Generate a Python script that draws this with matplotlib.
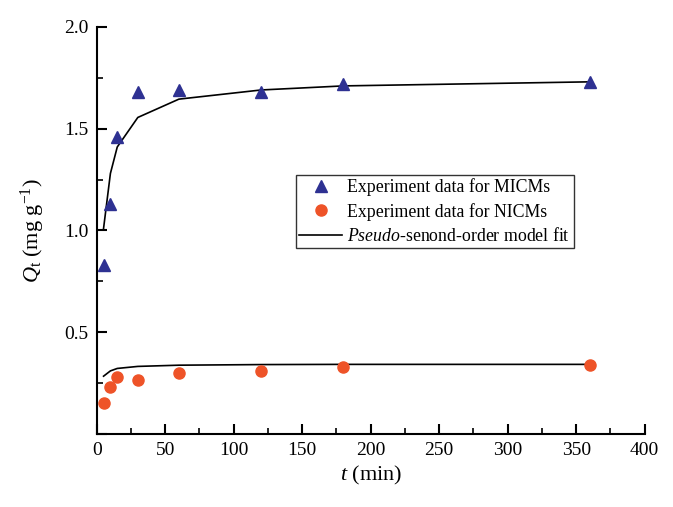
import matplotlib
matplotlib.use('Agg')
import matplotlib.pyplot as plt
from matplotlib.ticker import MultipleLocator

plt.rcParams['font.family'] = ['Liberation Serif', 'DejaVu Serif']
plt.rcParams['mathtext.fontset'] = 'custom'
plt.rcParams['mathtext.rm'] = 'Liberation Serif'
plt.rcParams['mathtext.it'] = 'Liberation Serif:italic'

# contact time (min)
t = [5, 10, 15, 30, 60, 120, 180, 360]

# measured uptake
q_micm = [0.83, 1.13, 1.46, 1.68, 1.69, 1.68, 1.72, 1.73]
q_nicm = [0.153, 0.232, 0.28, 0.263, 0.299, 0.309, 0.33, 0.338]

# pseudo-second-order fits
fit_micm = [1.01, 1.28, 1.41, 1.555, 1.645, 1.69, 1.71, 1.73]
fit_nicm = [0.284, 0.31, 0.322, 0.332, 0.338, 0.341, 0.342, 0.342]

fig = plt.figure(figsize=(6.73, 5.07), dpi=100)
ax = fig.add_axes([0.1437, 0.144, 0.8143, 0.803])

ax.plot(t, fit_micm, color='black', lw=1.2, zorder=2)
ax.plot(t, fit_nicm, color='black', lw=1.2, zorder=2,
        label=r'$\it{Pseudo}$-senond-order model fit')
ax.plot(t, q_micm, linestyle='none', marker='^', ms=9, color='#2e3192',
        label='Experiment data for MICMs', zorder=3)
ax.plot(t, q_nicm, linestyle='none', marker='o', ms=8, color='#ee5328',
        label='Experiment data for NICMs', zorder=3)

ax.set_xlim(0, 400)
ax.set_ylim(0, 2.0)
ax.xaxis.set_major_locator(MultipleLocator(50))
ax.xaxis.set_minor_locator(MultipleLocator(25))
ax.yaxis.set_major_locator(MultipleLocator(0.5))
ax.yaxis.set_minor_locator(MultipleLocator(0.25))
ax.set_yticks([0.0, 0.5, 1.0, 1.5, 2.0])
ax.set_yticklabels(['', '0.5', '1.0', '1.5', '2.0'])

for s in ['top', 'right']:
    ax.spines[s].set_visible(False)
for s in ['left', 'bottom']:
    ax.spines[s].set_linewidth(1.5)
ax.tick_params(which='major', direction='in', length=7, width=1.5, labelsize=14, pad=6)
ax.tick_params(which='minor', direction='in', length=4, width=1.2)

ax.set_xlabel(r'$t$ (min)', fontsize=16, labelpad=3)
ax.set_ylabel(r'$Q_\mathrm{t}$ (mg g$^{-1}$)', fontsize=16, labelpad=12)

handles, labels = ax.get_legend_handles_labels()
order = [1, 2, 0]
leg = ax.legend([handles[i] for i in order], [labels[i] for i in order],
                loc='upper left', bbox_to_anchor=(0.3635, 0.636),
                fontsize=12.8, frameon=True, fancybox=False,
                handlelength=2.4, handletextpad=0.3, borderpad=0.2,
                labelspacing=0.35, borderaxespad=0)
leg.get_frame().set_edgecolor('black')
leg.get_frame().set_linewidth(1.0)

fig.savefig('out.png', dpi=100)
